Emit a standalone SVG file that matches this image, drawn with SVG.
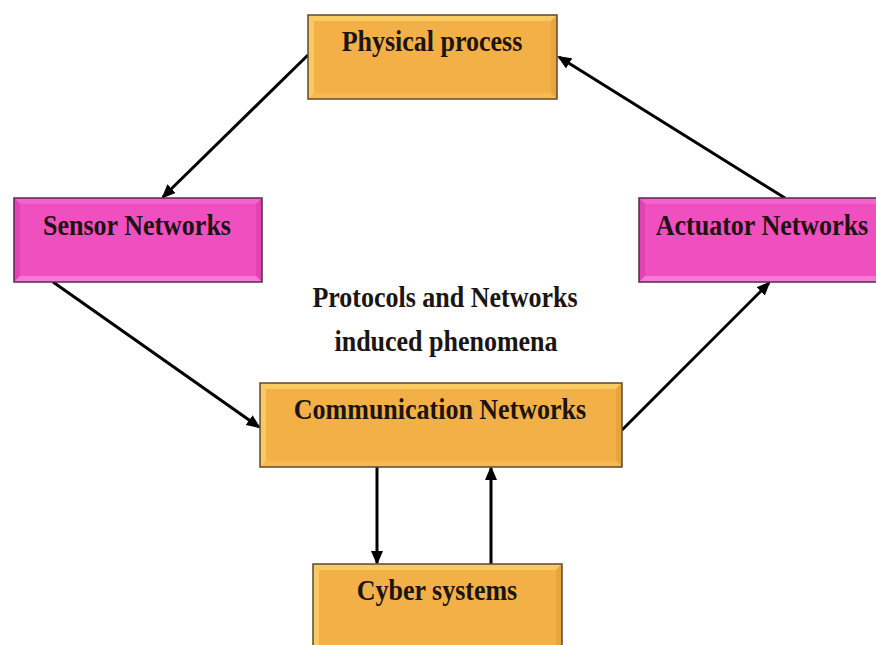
<svg xmlns="http://www.w3.org/2000/svg" width="876" height="645" viewBox="0 0 876 645">
<style>
.lbl{font-family:"Liberation Serif","Times New Roman",serif;font-weight:bold;font-size:26px;fill:#1c1410;text-anchor:middle}
.edge{stroke:#000;stroke-width:3;fill:none;marker-end:url(#ah)}
.o .face{fill:#F2B047}
.o .top{fill:#F9CA62}
.o .side{fill:#E8A43E}
.o .bot{fill:#F5BA52}
.o .frame{fill:none;stroke:#5c4a2c;stroke-width:1.5}
.p .face{fill:#F04FC0}
.p .top{fill:#F463CC}
.p .side{fill:#E044B2}
.p .bot{fill:#F878D8}
.p .frame{fill:none;stroke:#5a2a4a;stroke-width:1.5}
</style>
<defs>
<marker id="ah" markerUnits="userSpaceOnUse" markerWidth="14" markerHeight="12" refX="12" refY="6" orient="auto">
<path d="M0,0 L14,6 L0,12 z" fill="#000"/>
</marker>
</defs>
<rect width="876" height="645" fill="#fff"/>

<g id="connectors">
<line class="edge" x1="308" y1="55" x2="163" y2="197"/>
<line class="edge" x1="53" y1="282" x2="259" y2="427"/>
<line class="edge" x1="622" y1="430" x2="769" y2="283"/>
<line class="edge" x1="785" y1="198" x2="559" y2="57"/>
<line class="edge" x1="377" y1="467" x2="377" y2="563"/>
<line class="edge" x1="491" y1="564" x2="491" y2="468"/>
</g>

<g id="physical" class="o">
<rect class="face" x="308" y="15" width="249" height="84"/>
<polygon class="top" points="308,15 557,15 551,21 314,21"/>
<polygon class="top" points="308,15 314,21 314,93 308,99"/>
<polygon class="side" points="557,15 557,99 551,93 551,21"/>
<polygon class="bot" points="308,99 557,99 551,93 314,93"/>
<rect class="frame" x="308" y="15" width="249" height="84"/>
<text class="lbl" transform="translate(432,51) scale(1,1.16)">Physical process</text>
</g>

<g id="sensor" class="p">
<rect class="face" x="14" y="198" width="248" height="84"/>
<polygon class="top" points="14,198 262,198 256,204 20,204"/>
<polygon class="side" points="14,198 20,204 20,276 14,282"/>
<polygon class="side" points="262,198 262,282 256,276 256,204"/>
<polygon class="bot" points="14,282 262,282 256,276 20,276"/>
<rect class="frame" x="14" y="198" width="248" height="84"/>
<text class="lbl" transform="translate(137,235) scale(1,1.16)">Sensor Networks</text>
</g>

<g id="actuator" class="p">
<rect class="face" x="639" y="198" width="248" height="84"/>
<polygon class="top" points="639,198 887,198 881,204 645,204"/>
<polygon class="side" points="639,198 645,204 645,276 639,282"/>
<polygon class="bot" points="639,282 887,282 881,276 645,276"/>
<rect class="frame" x="639" y="198" width="248" height="84"/>
<text class="lbl" transform="translate(762,235) scale(1,1.16)">Actuator Networks</text>
</g>

<g id="label-protocols">
<text class="lbl" transform="translate(445,307) scale(1,1.16)">Protocols and Networks</text>
<text class="lbl" transform="translate(446,351) scale(1,1.16)">induced phenomena</text>
</g>

<g id="communication" class="o">
<rect class="face" x="260" y="383" width="362" height="84"/>
<polygon class="top" points="260,383 622,383 616,389 266,389"/>
<polygon class="top" points="260,383 266,389 266,461 260,467"/>
<polygon class="side" points="622,383 622,467 616,461 616,389"/>
<polygon class="bot" points="260,467 622,467 616,461 266,461"/>
<rect class="frame" x="260" y="383" width="362" height="84"/>
<text class="lbl" transform="translate(440,419) scale(1,1.16)">Communication Networks</text>
</g>

<g id="cyber" class="o">
<rect class="face" x="313" y="564" width="249" height="90"/>
<polygon class="top" points="313,564 562,564 556,570 319,570"/>
<polygon class="top" points="313,564 319,570 319,654 313,654"/>
<polygon class="side" points="562,564 562,654 556,654 556,570"/>
<rect class="frame" x="313" y="564" width="249" height="90"/>
<text class="lbl" transform="translate(437,600) scale(1,1.16)">Cyber systems</text>
</g>
</svg>
